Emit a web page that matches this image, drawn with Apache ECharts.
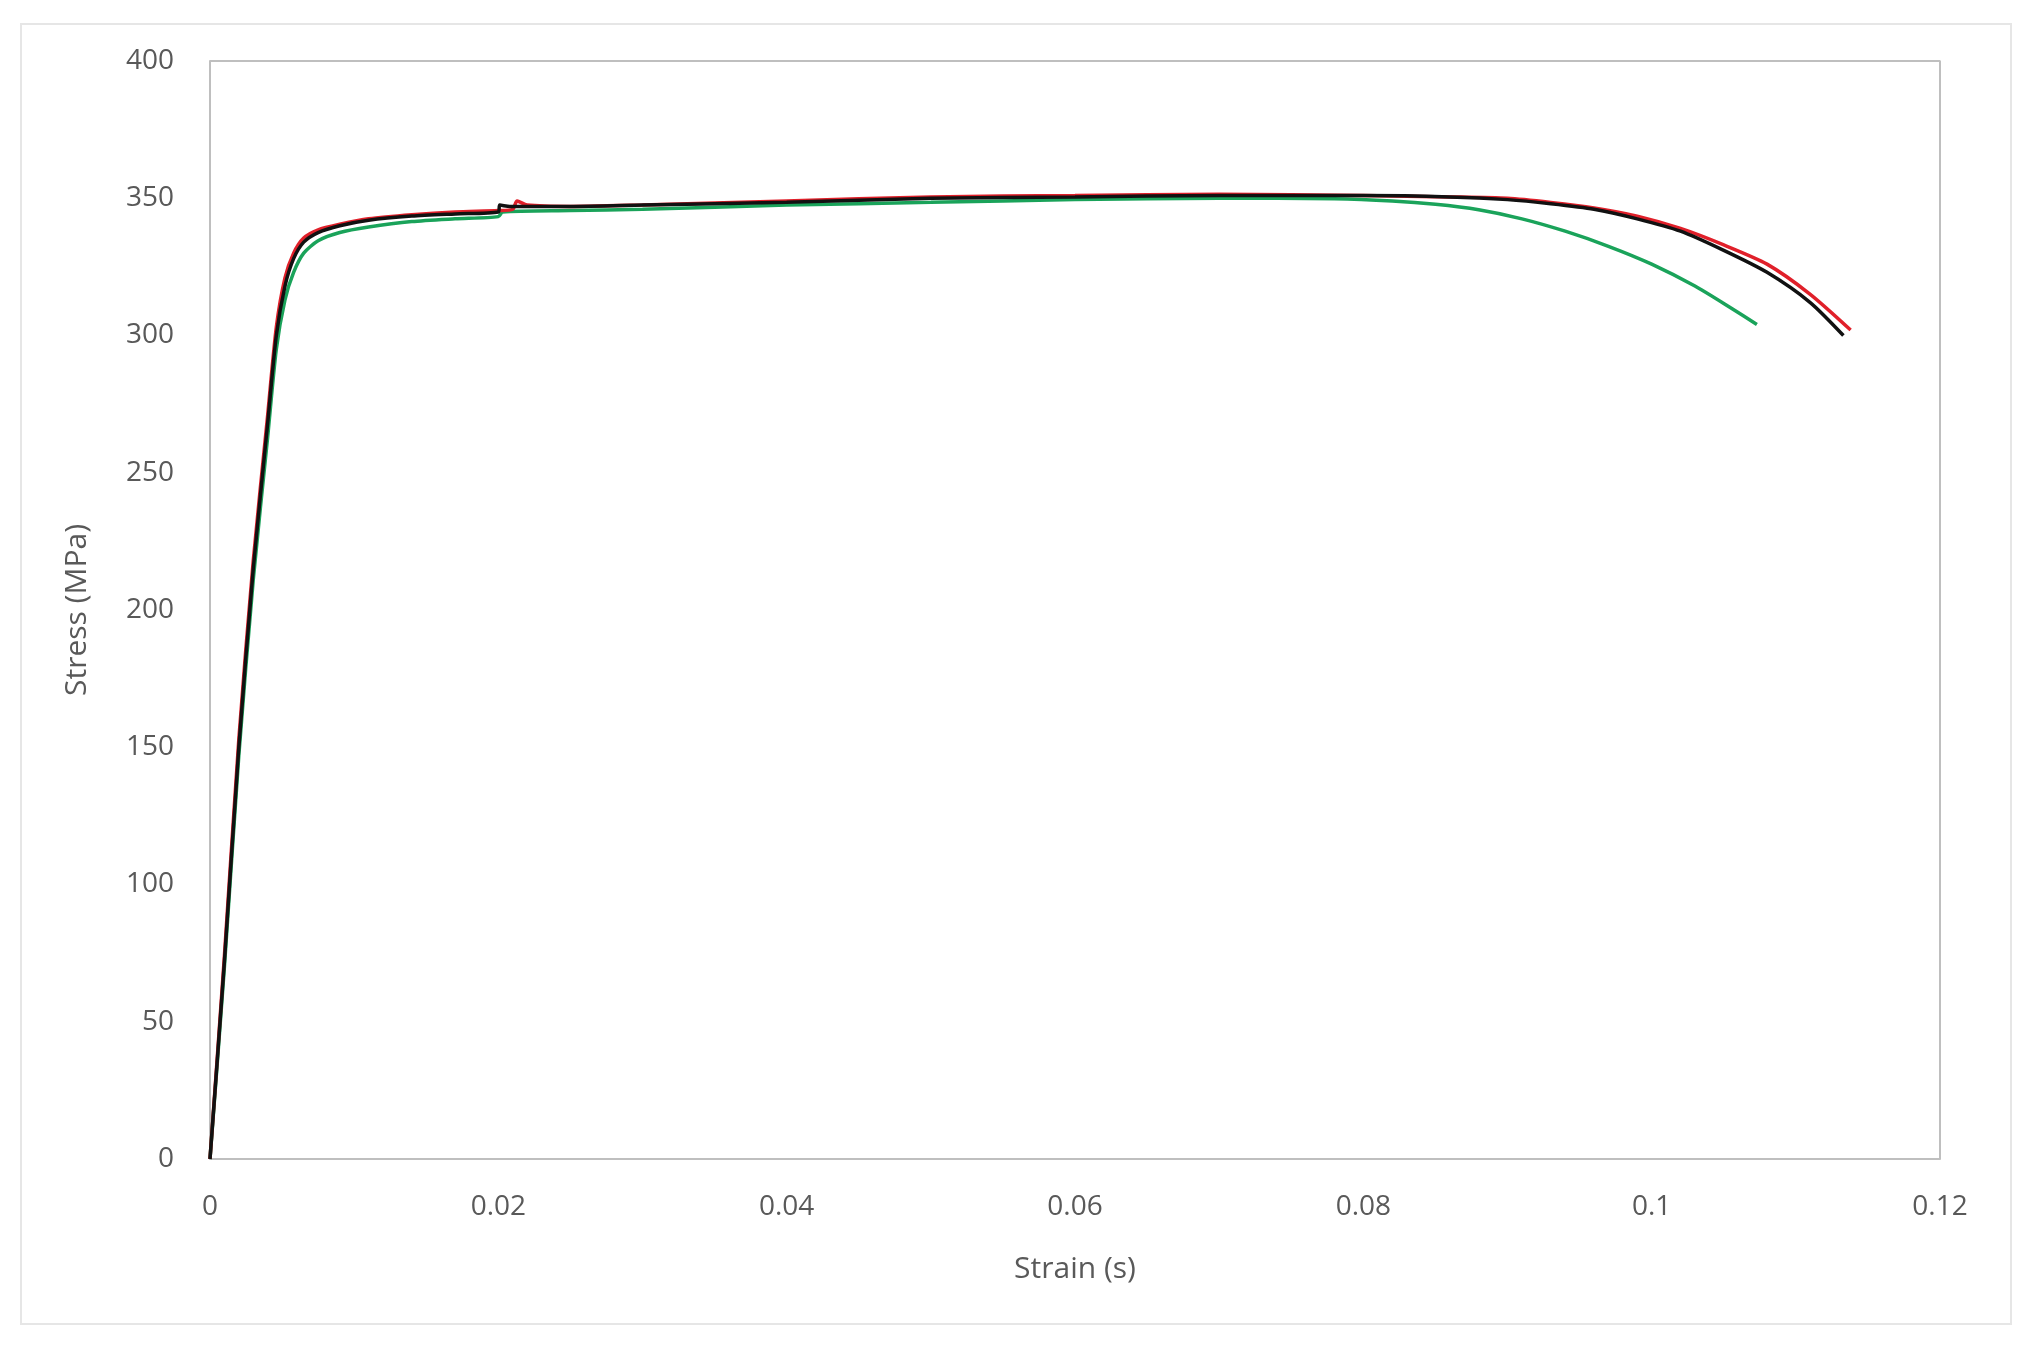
<!DOCTYPE html>
<html><head><meta charset="utf-8">
<script src="https://cdn.jsdelivr.net/npm/echarts@6/dist/echarts.min.js"></script>
<style>html,body{margin:0;background:#fff}#c{width:2033px;height:1371px}
#frame{position:absolute;left:20px;top:23px;width:1992px;height:1302px;border:2px solid #e6e6e6;box-sizing:border-box;pointer-events:none}</style>
</head><body><div id="c"></div><div id="frame"></div>
<script>
// strain / stress pairs
const blackData = [[0,0],[0.001,72],[0.002,150],[0.003,215],[0.004,268],[0.0046,300],[0.0052,318],[0.0058,328],[0.0065,334],[0.0075,337.5],[0.009,340],[0.011,342],[0.014,343.5],[0.017,344.3],[0.02,345],[0.0201,347.5],[0.0208,347],[0.025,347],[0.03,347.5],[0.04,348.5],[0.05,350],[0.06,350.5],[0.07,351],[0.08,351],[0.086,350.5],[0.09,349.5],[0.093,348],[0.096,346],[0.099,342.5],[0.102,338],[0.105,331],[0.108,323],[0.111,312],[0.1133,300]];
const redData = [[0,0],[0.001,74],[0.002,153],[0.003,218],[0.004,271],[0.0046,303],[0.0052,321],[0.0058,330],[0.0065,335.5],[0.0075,338.5],[0.009,340.5],[0.011,342.5],[0.014,344],[0.017,345],[0.02,345.5],[0.021,346],[0.0213,349],[0.022,347.5],[0.025,347],[0.03,347.5],[0.04,349],[0.05,350.5],[0.06,351],[0.07,351.5],[0.08,351],[0.086,350.5],[0.09,350],[0.093,348.5],[0.096,346.5],[0.099,343.5],[0.102,339],[0.105,333],[0.108,326],[0.111,315],[0.1138,302]];
const greenData = [[0,0],[0.001,70],[0.002,147],[0.003,211],[0.004,263],[0.0046,295],[0.0052,313],[0.0058,323],[0.0065,330],[0.0075,334.5],[0.009,337.5],[0.011,339.5],[0.014,341.5],[0.017,342.5],[0.02,343.3],[0.0203,345],[0.025,345.5],[0.03,346],[0.04,347.5],[0.05,348.5],[0.06,349.5],[0.07,350],[0.078,349.8],[0.082,349],[0.085,347.8],[0.088,345.8],[0.091,342.5],[0.094,338],[0.097,332.5],[0.1,326],[0.103,318],[0.1055,310],[0.1073,304]];
const xTicks = [0, 0.02, 0.04, 0.06, 0.08, 0.1, 0.12];
const yTicks = [0, 50, 100, 150, 200, 250, 300, 350, 400];

const txt = '#595959';
const font = 'Open Sans';
const chart = echarts.init(document.getElementById('c'));
const line = (d, c) => ({type:'line', data:d, showSymbol:false, smooth:0.25, lineStyle:{color:c, width:3.5}, itemStyle:{color:c}});
chart.setOption({
  animation:false,
  grid:{left:210, right:93, top:61, bottom:212},
  xAxis:{type:'value', min:0, max:0.12, interval:0.02, name:'Strain (s)', nameLocation:'middle', nameGap:95,
    nameTextStyle:{color:txt, fontSize:30, fontFamily:font},
    axisLine:{show:true, lineStyle:{color:'#bfbfbf', width:2}}, axisTick:{show:false}, splitLine:{show:false},
    axisLabel:{color:txt, fontSize:28, fontFamily:font, margin:34, formatter:v=>String(+v.toFixed(2))}},
  yAxis:{type:'value', min:0, max:400, interval:50, name:'Stress (MPa)', nameLocation:'middle', nameGap:118,
    nameTextStyle:{color:txt, fontSize:30, fontFamily:font},
    axisLine:{show:true, lineStyle:{color:'#bfbfbf', width:2}}, axisTick:{show:false}, splitLine:{show:false},
    axisLabel:{color:txt, fontSize:28, fontFamily:font, margin:36}},
  series:[
    line(greenData,'#1aa35a'),
    line(redData,'#e0202a'),
    line(blackData,'#111111'),
    {type:'line', data:[[0.12,0],[0.12,400],[0,400]], showSymbol:false, silent:true, lineStyle:{color:'#bfbfbf', width:2}}
  ]
});
</script></body></html>
